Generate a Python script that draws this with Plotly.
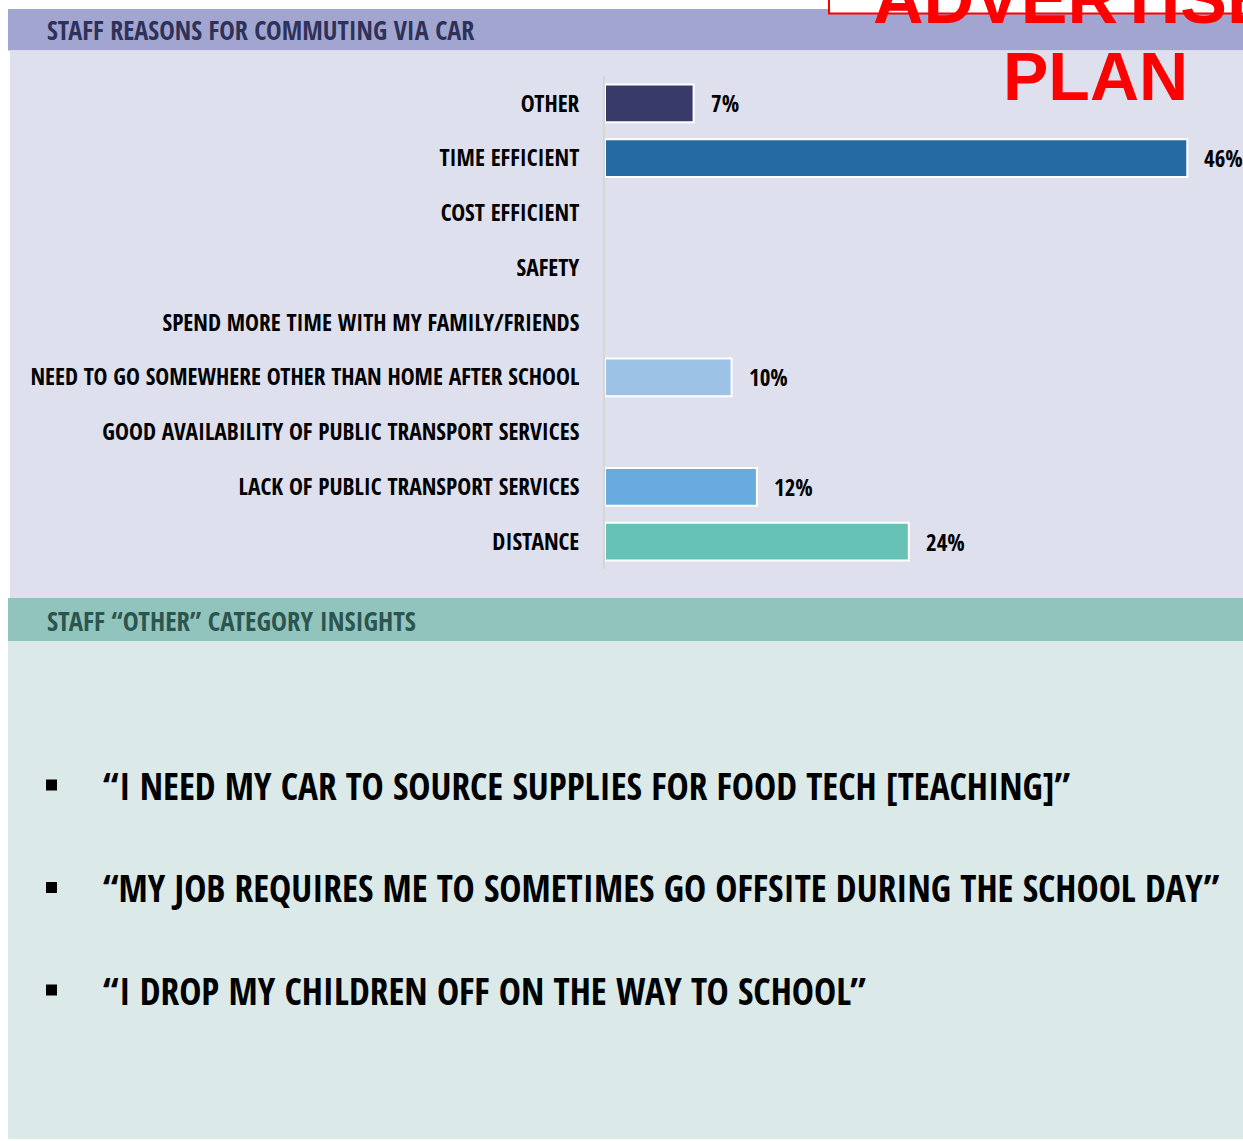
import plotly.graph_objects as go

# Survey results: reasons staff give for commuting by car (percent of respondents)
categories = [
    "OTHER",
    "TIME EFFICIENT",
    "COST EFFICIENT",
    "SAFETY",
    "SPEND MORE TIME WITH MY FAMILY/FRIENDS",
    "NEED TO GO SOMEWHERE OTHER THAN HOME AFTER SCHOOL",
    "GOOD AVAILABILITY OF PUBLIC TRANSPORT SERVICES",
    "LACK OF PUBLIC TRANSPORT SERVICES",
    "DISTANCE",
]
percentages = [7, 46, 0, 0, 0, 10, 0, 12, 24]
bar_colors = ["#383b6a", "#256aa3", "#256aa3", "#256aa3", "#256aa3",
              "#9cc2e6", "#9cc2e6", "#67abdf", "#66c1b6"]

section_titles = ["STAFF REASONS FOR COMMUTING VIA CAR", "STAFF \u201cOTHER\u201d CATEGORY INSIGHTS"]
quotes = [
    "\u201cI NEED MY CAR TO SOURCE SUPPLIES FOR FOOD TECH [TEACHING]\u201d",
    "\u201cMY JOB REQUIRES ME TO SOMETIMES GO OFFSITE DURING THE SCHOOL DAY\u201d",
    "\u201cI DROP MY CHILDREN OFF ON THE WAY TO SCHOOL\u201d",
]
stamp_lines = ["ADVERTISE", "PLAN"]

W, H = 1243, 1141
NARROW = "Open Sans Condensed, Roboto Condensed, DejaVu Sans Condensed, sans-serif"
STAMP = "Liberation Sans, Arial, sans-serif"


def px(x):
    return x / W


def py(y):
    return 1 - y / H


fig = go.Figure()
fig.add_trace(go.Bar(
    x=percentages,
    y=categories,
    orientation="h",
    width=0.69,
    marker=dict(color=bar_colors,
                line=dict(color="white", width=[2 if v > 0 else 0 for v in percentages])),
    hoverinfo="skip",
))

shapes = [
    # section header bars and panels
    dict(type="rect", x0=px(8), x1=px(W + 5), y0=py(50.5), y1=py(9), fillcolor="#a3a5d1", line_width=0),
    dict(type="rect", x0=px(10), x1=px(W + 5), y0=py(598), y1=py(50.5), fillcolor="#dfe0ee", line_width=0),
    dict(type="rect", x0=px(8), x1=px(W + 5), y0=py(641), y1=py(598), fillcolor="#92c4be", line_width=0),
    dict(type="rect", x0=px(8), x1=px(W + 5), y0=py(1139), y1=py(641), fillcolor="#dbeae9", line_width=0),
    # stamp frame
    dict(type="rect", x0=px(829), x1=px(W + 10), y0=py(13.5), y1=py(-10), fillcolor="white",
         line=dict(color="#ff0000", width=2)),
]
for i in range(len(quotes)):
    yc = 785 + i * 102.5
    shapes.append(dict(type="rect", x0=px(46), x1=px(57), y0=py(yc + 5.5), y1=py(yc - 5.5),
                       fillcolor="black", line_width=0))
for s in shapes:
    s["xref"] = "paper"
    s["yref"] = "paper"
    s["layer"] = "below"

annotations = [
    dict(text=section_titles[0], x=px(45), y=py(30), xanchor="left", yanchor="middle",
         font=dict(family=NARROW, size=26.2, color="#2e3259", weight="bold")),
    dict(text=section_titles[1], x=px(45), y=py(620), xanchor="left", yanchor="middle",
         font=dict(family=NARROW, size=26.8, color="#2d5550", weight="bold")),
    dict(text=stamp_lines[0], x=px(871), y=py(-1), xanchor="left", yanchor="middle",
         font=dict(family=STAMP, size=70, color="#ff0000", weight="bold")),
    dict(text=stamp_lines[1], x=px(1095), y=py(75.5), xanchor="center", yanchor="middle",
         font=dict(family=STAMP, size=68, color="#ff0000", weight="bold")),
]
for i, q in enumerate(quotes):
    annotations.append(dict(text=q, x=px(101), y=py(785 + i * 102.5), xanchor="left", yanchor="middle",
                            font=dict(family=NARROW, size=37.3, color="black", weight="bold")))
for c, v in zip(categories, percentages):
    if v > 0:
        annotations.append(dict(text=f"{v}%", x=v, y=c, xref="x", yref="y", xanchor="left",
                                yanchor="middle", xshift=15, showarrow=False,
                                font=dict(family=NARROW, size=23, color="black", weight="bold")))

for a in annotations:
    a.setdefault("xref", "paper")
    a.setdefault("yref", "paper")
    a.setdefault("showarrow", False)

fig.update_layout(
    width=W, height=H,
    margin=dict(l=0, r=0, t=0, b=0, autoexpand=False),
    paper_bgcolor="white",
    plot_bgcolor="rgba(0,0,0,0)",
    showlegend=False,
    shapes=shapes,
    annotations=annotations,
    xaxis=dict(domain=[px(605), 1], range=[0, 50.4], visible=False, fixedrange=True),
    yaxis=dict(domain=[py(569), py(76)], autorange="reversed", showline=True, linecolor="#d6d6d6",
               linewidth=2, ticks="", showgrid=False, zeroline=False, ticklabelstandoff=19,
               tickfont=dict(family=NARROW, size=23.4, color="black", weight="bold"),
               automargin=False, fixedrange=True),
)

fig.write_html("out.html", config={"displayModeBar": False})
